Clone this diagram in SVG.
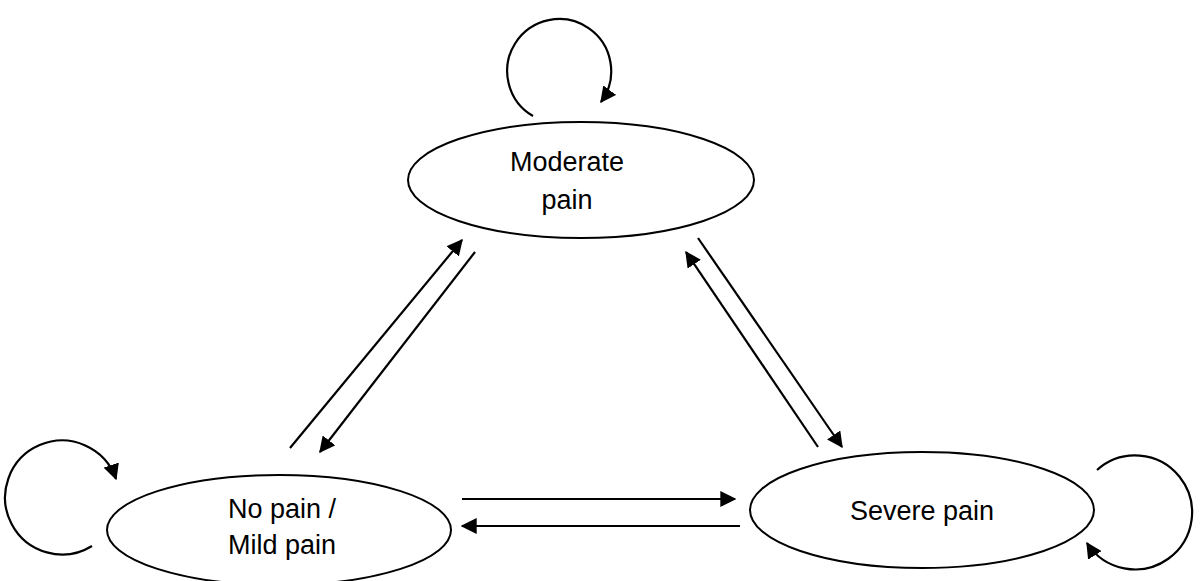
<svg xmlns="http://www.w3.org/2000/svg" width="1200" height="581" viewBox="0 0 1200 581">
<defs>
<marker id="a" viewBox="0 0 12 12" refX="11" refY="6" markerWidth="16" markerHeight="16" markerUnits="userSpaceOnUse" orient="auto"><path d="M0,0 L12,6 L0,12 z" fill="#000"/></marker>
<style>
.n{fill:#fff;stroke:#000;stroke-width:2}
.c{fill:none;stroke:#000;stroke-width:2.2;marker-end:url(#a)}
text{font-family:"Liberation Sans",Arial,sans-serif;font-size:27px;text-anchor:middle;fill:#000}
</style>
</defs>
<g id="moderate"><ellipse class="n" cx="581" cy="180" rx="173" ry="58"/><text x="567" y="171">Moderate</text><text x="567" y="209">pain</text></g>
<g id="nopain"><ellipse class="n" cx="279" cy="530" rx="172" ry="55"/><text x="282" y="518">No pain /</text><text x="282" y="554">Mild pain</text></g>
<g id="severe"><ellipse class="n" cx="922" cy="510" rx="172" ry="58"/><text x="922" y="520">Severe pain</text></g>
<g id="connectors">
<line class="c" x1="290" y1="448" x2="462" y2="240"/>
<line class="c" x1="475" y1="252" x2="320" y2="452"/>
<line class="c" x1="698" y1="238" x2="842" y2="447"/>
<line class="c" x1="818" y1="447" x2="686" y2="252"/>
<line class="c" x1="462" y1="499" x2="735" y2="499"/>
<line class="c" x1="740" y1="526" x2="462" y2="526"/>
<path class="c" d="M533,116 A52,52 0 1 1 601,102"/>
<path class="c" d="M92,546 A57,57 0 1 1 116,479"/>
<path class="c" d="M1097,470 A57,57 0 1 1 1087,543"/>
</g>
</svg>
